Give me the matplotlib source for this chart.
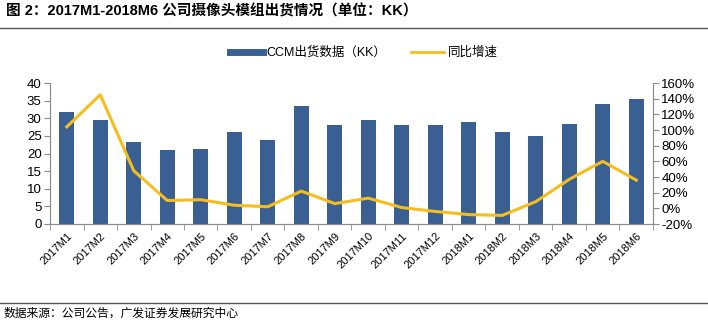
import matplotlib.pyplot as plt
from matplotlib.lines import Line2D
import numpy as np

plt.rcParams['font.family'] = ['Liberation Sans', 'Noto Sans CJK SC', 'DejaVu Sans']

# data
months = ['2017M1', '2017M2', '2017M3', '2017M4', '2017M5', '2017M6', '2017M7', '2017M8', '2017M9',
          '2017M10', '2017M11', '2017M12', '2018M1', '2018M2', '2018M3', '2018M4', '2018M5', '2018M6']
ccm = [31.7, 29.4, 23.3, 21.0, 21.4, 26.1, 23.9, 33.6, 28.0,
       29.4, 28.2, 28.0, 28.9, 26.2, 24.9, 28.5, 34.0, 35.4]
yoy = [104, 145, 48, 10, 11, 4, 2, 22, 6,
       13, 1, -4, -8, -9, 8.5, 37, 60, 36]

bar_color = '#3A5F93'
line_color = '#F5BE1E'
axis_gray = '#8C8C8C'

fig = plt.figure(figsize=(7.08, 3.22), dpi=100)
ax = fig.add_axes([50 / 708, 98 / 322, 603 / 708, 141 / 322])
ax2 = ax.twinx()

x = np.arange(len(months))
ax.bar(x, ccm, width=0.44, color=bar_color, zorder=2)
ax2.plot(x, yoy, color=line_color, lw=2.2, zorder=3)

ax.set_xlim(-0.5, len(months) - 0.5)
ax.set_ylim(0, 40)
ax.set_yticks(range(0, 41, 5))
ax2.set_ylim(-20, 160)
ax2.set_yticks(range(-20, 161, 20))
ax2.set_yticklabels([f'{v}%' for v in range(-20, 161, 20)])

ax.set_xticks(x)
ax.set_xticklabels(months, rotation=45, ha='right', rotation_mode='anchor', fontsize=8)
ax.set_xticks(np.arange(-0.5, len(months), 1), minor=True)
ax.tick_params(axis='x', which='major', length=0, pad=5)
ax.tick_params(axis='x', which='minor', length=4, color=axis_gray)
ax.tick_params(axis='y', labelsize=9.5, length=4, color=axis_gray, pad=2)
ax2.tick_params(axis='y', labelsize=9.5, length=4, color=axis_gray, pad=2)

for a in (ax, ax2):
    a.spines['top'].set_visible(False)
    for s in ('left', 'right', 'bottom'):
        a.spines[s].set_color(axis_gray)
        a.spines[s].set_linewidth(0.8)

# legend
handles = [Line2D([], [], color=bar_color, lw=5), Line2D([], [], color=line_color, lw=2)]
fig.legend(handles, ['CCM出货数据（KK）', '同比增速'], loc='center', bbox_to_anchor=(364 / 708, 1 - 53 / 322),
           ncol=2, frameon=False, fontsize=9, handlelength=2.6, handletextpad=0.3, columnspacing=2.0)

# title, rules and source
fig.text(6 / 708, 1 - 11 / 322, '图 2：2017M1-2018M6 公司摄像头模组出货情况（单位：KK）',
         fontsize=10.5, fontweight='bold', va='center', ha='left')
fig.add_artist(Line2D([0, 1], [1 - 28 / 322, 1 - 28 / 322], color='#555555', lw=1))
fig.add_artist(Line2D([0, 1], [1 - 303 / 322, 1 - 303 / 322], color='#555555', lw=1))
fig.text(4 / 708, 1 - 314 / 322, '数据来源：公司公告，广发证券发展研究中心', fontsize=8.5, va='center', ha='left')

fig.savefig('out.png', dpi=100)
